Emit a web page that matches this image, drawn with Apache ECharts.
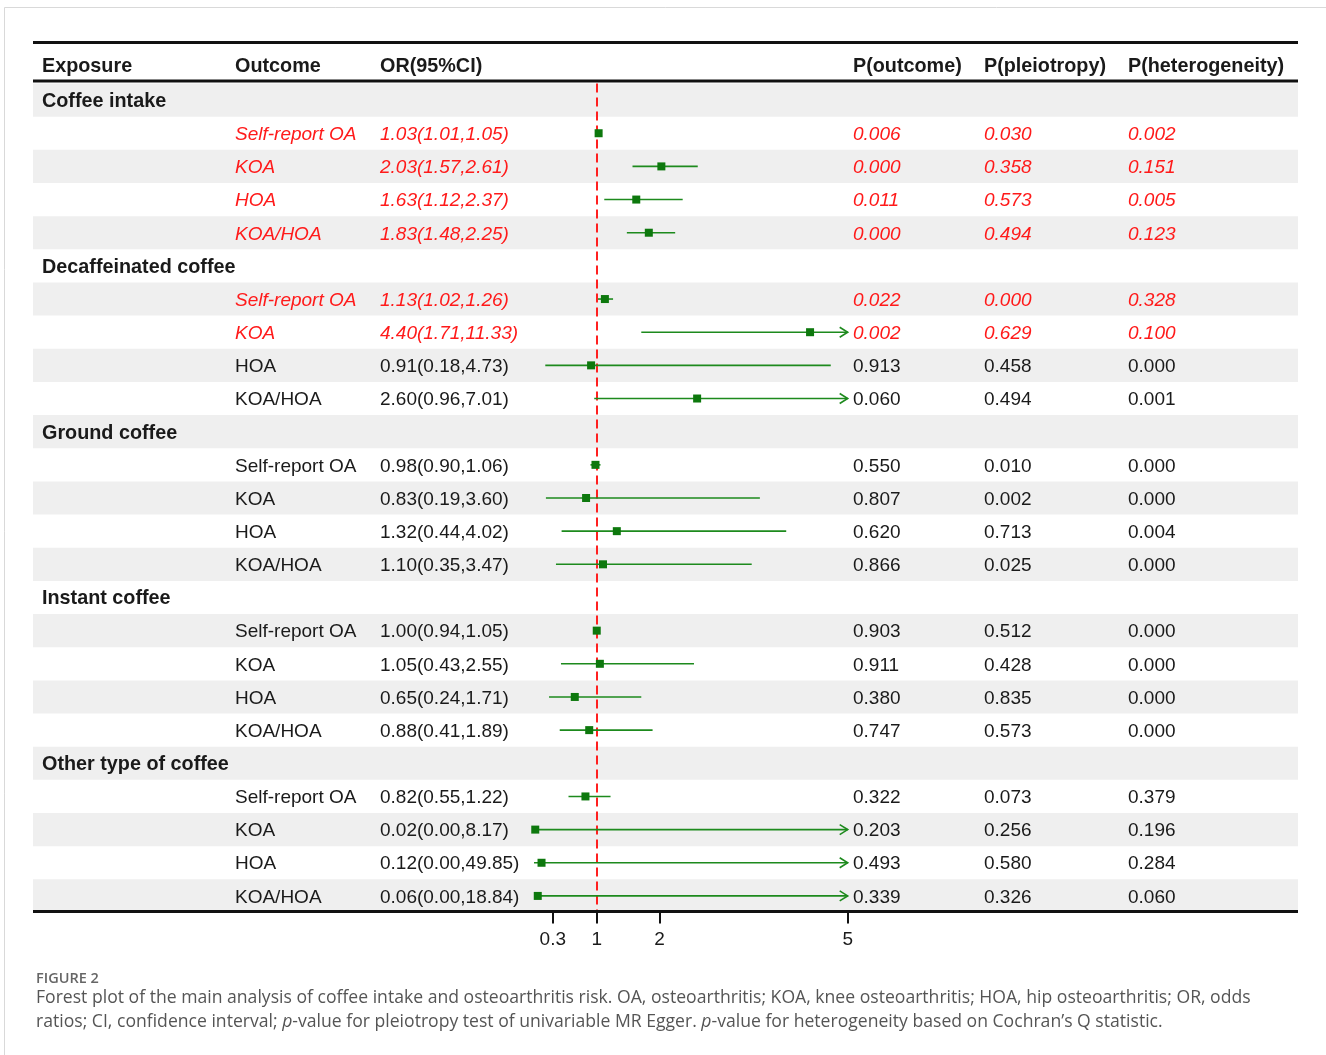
<!DOCTYPE html>
<html>
<head>
<meta charset="utf-8">
<script src="https://cdn.jsdelivr.net/npm/echarts@6/dist/echarts.min.js"></script>
<style>
html,body{margin:0;padding:0;background:#fff;}
#chart{width:1326px;height:1055px;}
</style>
</head>
<body>
<div id="chart"></div>
<script>
// ---------------- data ----------------
const exposures = ['Coffee intake', 'Decaffeinated coffee', 'Ground coffee', 'Instant coffee', 'Other type of coffee'];
const outcomes = ['Self-report OA', 'KOA', 'HOA', 'KOA/HOA'];
const orValues = [1.03, 2.03, 1.63, 1.83, 1.13, 4.40, 0.91, 2.60, 0.98, 0.83, 1.32, 1.10, 1.00, 1.05, 0.65, 0.88, 0.82, 0.02, 0.12, 0.06];
const ciLower = [1.01, 1.57, 1.12, 1.48, 1.02, 1.71, 0.18, 0.96, 0.90, 0.19, 0.44, 0.35, 0.94, 0.43, 0.24, 0.41, 0.55, 0.00, 0.00, 0.00];
const ciUpper = [1.05, 2.61, 2.37, 2.25, 1.26, 11.33, 4.73, 7.01, 1.06, 3.60, 4.02, 3.47, 1.05, 2.55, 1.71, 1.89, 1.22, 8.17, 49.85, 18.84];
const pOutcome = ['0.006', '0.000', '0.011', '0.000', '0.022', '0.002', '0.913', '0.060', '0.550', '0.807', '0.620', '0.866', '0.903', '0.911', '0.380', '0.747', '0.322', '0.203', '0.493', '0.339'];
const pPleiotropy = ['0.030', '0.358', '0.573', '0.494', '0.000', '0.629', '0.458', '0.494', '0.010', '0.002', '0.713', '0.025', '0.512', '0.428', '0.835', '0.573', '0.073', '0.256', '0.580', '0.326'];
const pHeterogeneity = ['0.002', '0.151', '0.005', '0.123', '0.328', '0.100', '0.000', '0.001', '0.000', '0.000', '0.004', '0.000', '0.000', '0.000', '0.000', '0.000', '0.379', '0.196', '0.284', '0.060'];
const headers = ['Exposure', 'Outcome', 'OR(95%CI)', 'P(outcome)', 'P(pleiotropy)', 'P(heterogeneity)'];
const tickValues = [0.3, 1, 2, 5];
const xMax = 5;

// ---------------- layout / style ----------------
const FONT = "'Liberation Sans', Arial, sans-serif";
const TABLE_LEFT = 33, TABLE_W = 1265;
const GRID_TOP = 83.5, GRID_H = 829;
const colX = [9, 202, 347, 820, 951, 1095]; // offsets from table left
const RED = '#ff1a1a', DARK = '#1a1a1a', GREEN = '#1d8a1d', GREEN_DARK = '#0d780d', SHADE = '#efefef';
const TEXT_DY = 1.5;
const BOLD_SIZE = 19.8;

// build row structure
const rows = [];
exposures.forEach((e, ei) => {
  rows.push({ kind: 'group', label: e });
  outcomes.forEach((o, oi) => rows.push({ kind: 'item', k: ei * outcomes.length + oi, outcome: o }));
});
const rowIdx = rows.map((r, i) => String(i));
const fmt = v => v.toFixed(2);

const tableData = rows.map((r, i) => [0, i]);
const forestData = [];
rows.forEach((r, i) => {
  if (r.kind === 'item') forestData.push([i, orValues[r.k], ciLower[r.k], ciUpper[r.k]]);
});

const chart = echarts.init(document.getElementById('chart'), null, { renderer: 'canvas' });

const CAP_FONT = "'Open Sans', sans-serif";
const captionRich = {
  n: { fontFamily: CAP_FONT, fontSize: 17.6, color: '#555', lineHeight: 24 },
  i: { fontFamily: CAP_FONT, fontSize: 17.6, fontStyle: 'italic', color: '#555', lineHeight: 24 }
};

const option = {
  animation: false,
  backgroundColor: '#fff',
  grid: [
    { left: TABLE_LEFT, top: GRID_TOP, width: TABLE_W, height: GRID_H },
    { left: 534, top: GRID_TOP, width: 313.7, height: GRID_H }
  ],
  xAxis: [
    {
      gridIndex: 0, type: 'value', min: 0, max: TABLE_W, show: false
    },
    {
      gridIndex: 1, type: 'value', min: 0, max: xMax,
      axisLine: { show: false },
      axisTick: { show: true, customValues: tickValues, length: 11, inside: false, lineStyle: { color: '#111', width: 2 } },
      axisLabel: { show: true, customValues: tickValues, fontFamily: FONT, fontSize: 19, color: '#1a1a1a', margin: 18, formatter: v => String(v) },
      splitLine: { show: false }
    }
  ],
  yAxis: [
    { gridIndex: 0, type: 'category', data: rowIdx, inverse: true, show: false },
    { gridIndex: 1, type: 'category', data: rowIdx, inverse: true, show: false }
  ],
  series: [
    {
      type: 'custom', xAxisIndex: 0, yAxisIndex: 0, z: 1, silent: true,
      data: tableData,
      renderItem: function (params, api) {
        const i = api.value(1);
        const r = rows[i];
        const c = api.coord([0, i]);
        const h = api.size([0, 1])[1];
        const w = api.size([TABLE_W, 0])[0];
        const y = c[1];
        const children = [];
        if (i % 2 === 0) {
          children.push({ type: 'rect', shape: { x: c[0], y: y - h / 2, width: w, height: h }, style: { fill: SHADE } });
        }
        const txt = (x, s, color, style, weight, size) => ({
          type: 'text', x: api.coord([x, i])[0], y: y + TEXT_DY,
          style: { text: s, fill: color, font: `${style} ${weight} ${size}px ${FONT}`, textVerticalAlign: 'middle', textAlign: 'left' }
        });
        if (r.kind === 'group') {
          children.push(txt(colX[0], r.label, DARK, 'normal', 'bold', BOLD_SIZE));
        } else {
          const k = r.k;
          const sig = parseFloat(pOutcome[k]) < 0.05;
          const col = sig ? RED : DARK;
          const st = sig ? 'italic' : 'normal';
          children.push(txt(colX[1], r.outcome, col, st, 'normal', 19));
          children.push(txt(colX[2], `${fmt(orValues[k])}(${fmt(ciLower[k])},${fmt(ciUpper[k])})`, col, st, 'normal', 19));
          children.push(txt(colX[3], pOutcome[k], col, st, 'normal', 19));
          children.push(txt(colX[4], pPleiotropy[k], col, st, 'normal', 19));
          children.push(txt(colX[5], pHeterogeneity[k], col, st, 'normal', 19));
        }
        return { type: 'group', children };
      }
    },
    {
      type: 'custom', xAxisIndex: 1, yAxisIndex: 1, z: 5, silent: true,
      data: forestData,
      renderItem: function (params, api) {
        const i = api.value(0), or = api.value(1), lo = api.value(2), hi = api.value(3);
        const pLo = api.coord([Math.max(lo, 0), i]);
        const clipped = hi > xMax;
        const pHi = api.coord([Math.min(hi, xMax), i]);
        const pOr = api.coord([or, i]);
        const y = pOr[1];
        const children = [
          { type: 'line', shape: { x1: pLo[0], y1: y, x2: pHi[0], y2: y }, style: { stroke: GREEN, lineWidth: 1.6 } }
        ];
        if (clipped) {
          children.push({ type: 'polyline', shape: { points: [[pHi[0] - 8, y - 5], [pHi[0], y], [pHi[0] - 8, y + 5]] }, style: { stroke: GREEN, lineWidth: 1.6, fill: 'none' } });
        }
        children.push({ type: 'rect', shape: { x: pOr[0] - 4, y: y - 4, width: 8, height: 8 }, style: { fill: GREEN_DARK } });
        return { type: 'group', children };
      },
      markLine: {
        silent: true, symbol: 'none', label: { show: false }, z: 4,
        lineStyle: { color: '#ff2020', type: [9, 5], width: 2 },
        data: [{ xAxis: 1 }]
      }
    }
  ],
  graphic: [
    { type: 'rect', shape: { x: 4.5, y: 7.5, width: 1400, height: 1100 }, style: { fill: 'none', stroke: '#d9d9d9', lineWidth: 1 }, z: 0 },
    { type: 'line', shape: { x1: TABLE_LEFT, y1: 42.5, x2: TABLE_LEFT + TABLE_W, y2: 42.5 }, style: { stroke: '#111', lineWidth: 3 } },
    { type: 'line', shape: { x1: TABLE_LEFT, y1: 81, x2: TABLE_LEFT + TABLE_W, y2: 81 }, style: { stroke: '#111', lineWidth: 3 } },
    { type: 'line', shape: { x1: TABLE_LEFT, y1: 911.5, x2: TABLE_LEFT + TABLE_W, y2: 911.5 }, style: { stroke: '#111', lineWidth: 3 }, z: 10 },
    ...headers.map((h, j) => ({
      type: 'text', x: TABLE_LEFT + colX[j], y: 65 + TEXT_DY,
      style: { text: h, fill: DARK, font: `bold ${BOLD_SIZE}px ${FONT}`, textVerticalAlign: 'middle' }
    })),
    { type: 'text', x: 36, y: 979, style: { text: 'FIGURE 2', fill: '#666', font: `600 14.5px ${CAP_FONT}`, textVerticalAlign: 'middle' } },
    {
      type: 'text', x: 36, y: 986,
      style: {
        text: '{n|Forest plot of the main analysis of coffee intake and osteoarthritis risk. OA, osteoarthritis; KOA, knee osteoarthritis; HOA, hip osteoarthritis; OR, odds}\n{n|ratios; CI, confidence interval; }{i|p}{n|-value for pleiotropy test of univariable MR Egger. }{i|p}{n|-value for heterogeneity based on Cochran\u2019s Q statistic.}',
        rich: captionRich, fill: '#555', font: `17.6px ${CAP_FONT}`
      }
    }
  ]
};
chart.setOption(option);
</script>
</body>
</html>
